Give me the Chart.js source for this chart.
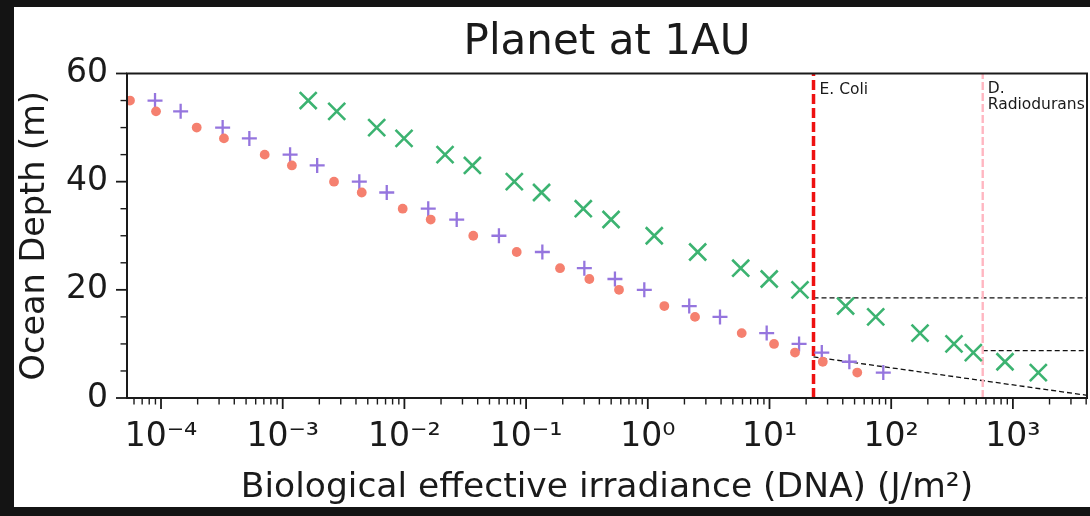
<!DOCTYPE html>
<html><head><meta charset="utf-8">
<script src="https://cdn.jsdelivr.net/npm/chart.js@4.4.1/dist/chart.umd.min.js"></script>
<style>html,body{margin:0;padding:0;background:#131313;overflow:hidden}canvas{display:block}</style>
</head><body>
<canvas id="c" width="1090" height="516"></canvas>
<script>
// ---- data ----
const depth  = [55, 53, 50, 48, 45, 43, 40, 38, 35, 33, 30, 27, 24, 22, 20, 17, 15, 12, 10, 8.4, 6.7, 4.7];
const circleX = [5.56e-5, 9.10e-5, 1.965e-4, 3.29e-4, 7.11e-4, 1.19e-3, 2.64e-3, 4.46e-3, 9.68e-3, 0.01645, 0.0368, 0.0837, 0.190, 0.331, 0.580, 1.367, 2.443, 5.91, 10.9, 16.2, 27.4, 52.6];
const plusX   = [8.93e-5, 1.45e-4, 3.21e-4, 5.32e-4, 1.15e-3, 1.92e-3, 4.26e-3, 7.16e-3, 0.0157, 0.0269, 0.0598, 0.136, 0.301, 0.537, 0.936, 2.19, 3.92, 9.48, 17.5, 26.9, 45.3, 86.1];
const crossX  = [1.62e-3, 2.78e-3, 5.92e-3, 9.93e-3, 0.02157, 0.0362, 0.080, 0.134, 0.295, 0.499, 1.13, 2.57, 5.80, 9.95, 17.8, 42.2, 74.6, 172.6, 328, 473, 861, 1618];
const xTickValues = [1e-4, 1e-3, 1e-2, 1e-1, 1, 10, 100, 1000];
const xTickLabels = ['10⁻⁴', '10⁻³', '10⁻²', '10⁻¹', '10⁰', '10¹', '10²', '10³'];
const yTickValues = [0, 20, 40, 60];
const xMin = 5.255e-5, xMax = 4064;
const yMin = 0, yMax = 60;
const eColiX = 23, dRadX = 565;
const eColiLabel = ['E. Coli'];
const dRadLabel = ['D.', 'Radiodurans'];
const eColiDepth = 18.5;       // horizontal guide from E. Coli line
const dRadDepth = 8.75;        // horizontal guide from D. Radiodurans line
const diagStart = [eColiX, 7.6];
const diagEnd = [xMax, 0.5];
const chartTitle = 'Planet at 1AU';
const xTitle = 'Biological effective irradiance (DNA) (J/m²)';
const yTitle = 'Ocean Depth (m)';

const pts = (xs) => xs.map((x, i) => ({x: x, y: depth[i]}));
const FONT = "'DejaVu Sans', sans-serif";
const INK = '#1a1a1a';

function zeroPad(s, horiz) {
  if (horiz) { s.paddingLeft = 0; s.paddingRight = 0; if (s._margins) { s._margins.left = 0; s._margins.right = 0; } }
  else { s.paddingTop = 0; s.paddingBottom = 0; if (s._margins) { s._margins.top = 0; s._margins.bottom = 0; } }
}

const bgPlugin = {
  id: 'bg',
  afterLayout(chart) {
    const tb = chart.titleBlock;
    if (tb) { tb.left = chart.chartArea.left; tb.right = chart.chartArea.right; tb.width = tb.right - tb.left; }
  },
  beforeDraw(chart) {
    const c = chart.ctx;
    c.save();
    c.fillStyle = '#141414';
    c.fillRect(0, 0, chart.width, chart.height);
    c.fillStyle = '#ffffff';
    c.fillRect(14, 7, 1076, 500);
    c.restore();
  }
};

const framePlugin = {
  id: 'frame',
  afterDraw(chart) {
    const c = chart.ctx, a = chart.chartArea;
    const xs = chart.scales.x, ys = chart.scales.y;
    c.save();
    c.strokeStyle = INK;
    c.lineWidth = 1.8;
    for (const v of xTickValues) {
      const px = xs.getPixelForValue(v);
      c.beginPath(); c.moveTo(px, a.bottom); c.lineTo(px, a.bottom + 11); c.stroke();
    }
    c.lineWidth = 1.4;
    for (let k = -6; k <= 4; k++) {
      for (let m = 2; m <= 9; m++) {
        const v = m * Math.pow(10, k);
        if (v <= xMin || v >= xMax) continue;
        const px = xs.getPixelForValue(v);
        c.beginPath(); c.moveTo(px, a.bottom); c.lineTo(px, a.bottom + 6.5); c.stroke();
      }
    }
    for (let v = yMin; v <= yMax; v += 5) {
      const py = ys.getPixelForValue(v);
      const major = v % 20 === 0;
      c.lineWidth = major ? 1.8 : 1.4;
      c.beginPath(); c.moveTo(a.left, py); c.lineTo(a.left - (major ? 11 : 6.5), py); c.stroke();
    }
    c.lineWidth = 2;
    c.strokeRect(a.left, a.top, a.right - a.left, a.bottom - a.top);
    c.fillStyle = INK;
    c.font = "15.5px " + FONT;
    c.textAlign = 'left';
    c.textBaseline = 'alphabetic';
    const ex = xs.getPixelForValue(eColiX) + 6;
    eColiLabel.forEach((t, i) => c.fillText(t, ex, a.top + 20 + i * 16));
    const dx = xs.getPixelForValue(dRadX) + 5;
    dRadLabel.forEach((t, i) => c.fillText(t, dx, a.top + 19 + i * 16));
    c.restore();
  }
};

new Chart(document.getElementById('c'), {
  type: 'scatter',
  data: {
    datasets: [
      { label: 'circles', data: pts(circleX), pointStyle: 'circle', pointRadius: 4.9, backgroundColor: '#F5806F', borderWidth: 0, pointBorderWidth: 0 },
      { label: 'plus', data: pts(plusX), pointStyle: 'cross', pointRadius: 7.5, borderColor: '#9575DE', backgroundColor: '#9575DE', pointBorderWidth: 2.3 },
      { label: 'x', data: pts(crossX), pointStyle: 'crossRot', pointRadius: 12, borderColor: '#3CB371', backgroundColor: '#3CB371', pointBorderWidth: 2.6 },
      { type: 'line', label: 'ecoli', data: [{x: eColiX, y: yMin}, {x: eColiX, y: yMax}], borderColor: '#ee1111', borderWidth: 3.5, borderDash: [10, 4], pointRadius: 0, fill: false },
      { type: 'line', label: 'drad', data: [{x: dRadX, y: yMin}, {x: dRadX, y: yMax}], borderColor: '#FFB6C1', borderWidth: 2.4, borderDash: [8, 3], pointRadius: 0, fill: false },
      { type: 'line', label: 'h1', data: [{x: eColiX, y: eColiDepth}, {x: xMax, y: eColiDepth}], borderColor: '#111', borderWidth: 1.3, borderDash: [5, 3], pointRadius: 0, fill: false },
      { type: 'line', label: 'h2', data: [{x: dRadX, y: dRadDepth}, {x: xMax, y: dRadDepth}], borderColor: '#111', borderWidth: 1.3, borderDash: [5, 3], pointRadius: 0, fill: false },
      { type: 'line', label: 'diag', data: [{x: diagStart[0], y: diagStart[1]}, {x: diagEnd[0], y: diagEnd[1]}], borderColor: '#111', borderWidth: 1.3, borderDash: [5, 3], pointRadius: 0, fill: false }
    ]
  },
  options: {
    responsive: false,
    animation: false,
    devicePixelRatio: 1,
    layout: { autoPadding: false, padding: { left: 14, top: 0, right: 3, bottom: 0 } },
    plugins: {
      legend: { display: false },
      tooltip: { enabled: false },
      title: { display: true, text: chartTitle, color: INK, font: { family: FONT, size: 42, weight: 'normal', lineHeight: 1.2 }, padding: { top: 18, bottom: 5.1 } }
    },
    scales: {
      x: {
        type: 'logarithmic', min: xMin, max: xMax,
        grid: { display: false, drawTicks: false },
        border: { display: false },
        afterBuildTicks: (s) => { s.ticks = xTickValues.map(v => ({ value: v })); },
        afterFit: (s) => { s.height = 118; zeroPad(s, true); },
        ticks: {
          autoSkip: false, maxRotation: 0, padding: 20, color: INK,
          font: { family: FONT, size: 33 },
          callback: (v) => { const i = xTickValues.indexOf(v); return i >= 0 ? xTickLabels[i] : ''; }
        },
        title: { display: true, text: xTitle, color: INK, font: { family: FONT, size: 34.5, lineHeight: 1.2 }, padding: { top: 0, bottom: 7 } }
      },
      y: {
        type: 'linear', min: yMin, max: yMax,
        grid: { display: false, drawTicks: false },
        border: { display: false },
        afterBuildTicks: (s) => { s.ticks = yTickValues.map(v => ({ value: v })); },
        afterFit: (s) => { s.width = 113; zeroPad(s, false); },
        ticks: { padding: 19, color: INK, font: { family: FONT, size: 33 } },
        title: { display: true, text: yTitle, color: INK, font: { family: FONT, size: 33.5, lineHeight: 1.2 }, padding: { top: 1.2, bottom: 0 } }
      }
    }
  },
  plugins: [bgPlugin, framePlugin]
});
</script>
</body></html>
